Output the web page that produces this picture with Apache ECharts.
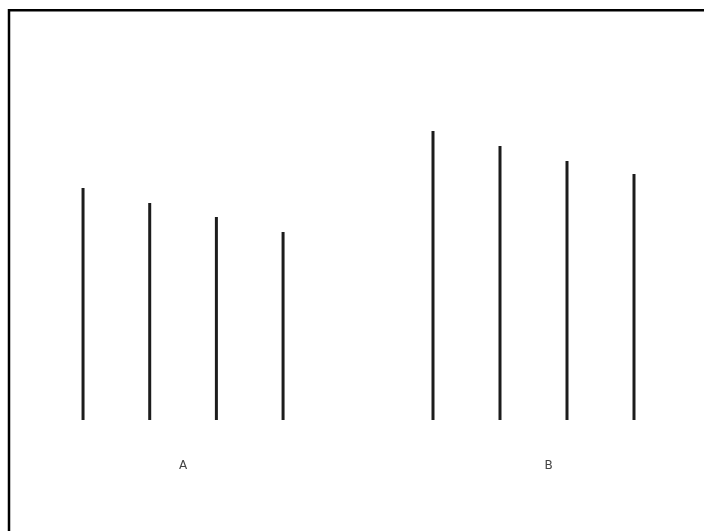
<!DOCTYPE html>
<html lang="en">
<head>
    <meta charset="UTF-8">
    <title>A / B lines</title>
    <script src="https://cdn.jsdelivr.net/npm/echarts@6/dist/echarts.min.js"></script>
</head>
<style>
    *{
        margin: 0;
    }
    html,body{
        height: 100%;
        background: #fff;
    }
    #chart{
        width: 704px;
        height: 531px;
    }
</style>
<body>
<div id="chart"></div>
<script>
    // line heights, two groups of four
    const groupNames = ['A', 'B'];
    const slots = ['1', '2', '3', '4'];
    const valuesA = [232, 217, 203, 188];
    const valuesB = [289, 274, 259, 246];

    let chart = echarts.init(document.getElementById('chart'));

    function xAxisFor(idx, name, shift){
        return {
            type: 'category',
            gridIndex: idx,
            data: slots,
            name: name,
            nameLocation: 'middle',
            nameGap: 40,
            nameTextStyle: {
                fontSize: 12,
                color: '#444',
                fontFamily: 'DejaVu Sans',
                padding: [0, 0, 0, shift]
            },
            axisLine: {show: false},
            axisTick: {show: false},
            axisLabel: {show: false}
        };
    }
    function yAxisFor(idx){
        return {
            type: 'value',
            gridIndex: idx,
            min: 0,
            max: 400,
            show: false,
            splitLine: {show: false}
        };
    }
    function seriesFor(idx, data){
        return {
            type: 'bar',
            xAxisIndex: idx,
            yAxisIndex: idx,
            data: data,
            barWidth: 3,
            itemStyle: {color: '#1c1c1c'},
            silent: true
        };
    }

    chart.setOption({
        animation: false,
        grid: [
            {left: 49.7, width: 266.7, top: 20, height: 400},
            {left: 399.5, width: 268, top: 20, height: 400}
        ],
        xAxis: [xAxisFor(0, groupNames[0], 0), xAxisFor(1, groupNames[1], 30)],
        yAxis: [yAxisFor(0), yAxisFor(1)],
        series: [seriesFor(0, valuesA), seriesFor(1, valuesB)],
        graphic: [{
            type: 'rect',
            shape: {x: 9, y: 10.2, width: 1000, height: 1000},
            style: {fill: 'none', stroke: '#000', lineWidth: 2.5},
            silent: true
        }]
    });
</script>
</body>
</html>
